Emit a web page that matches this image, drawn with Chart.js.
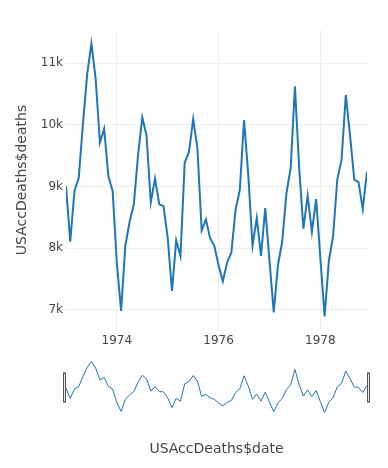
<!DOCTYPE html>
<html>
<head>
<meta charset="utf-8">
<script src="https://cdn.jsdelivr.net/npm/chart.js@4.4.0/dist/chart.umd.min.js"></script>
<style>
  html, body { margin: 0; padding: 0; background: #fff; }
  #wrap { position: relative; width: 388px; height: 468px; }
  #main { position: absolute; left: 0; top: 0; }
  #slider { position: absolute; left: 0; top: 355px; }
</style>
</head>
<body>
<div id="wrap">
  <canvas id="main" width="388" height="468"></canvas>
  <canvas id="slider" width="388" height="65"></canvas>
</div>
<script>
// ---- data ----
const dates = [
  "1973-01","1973-02","1973-03","1973-04","1973-05","1973-06","1973-07","1973-08","1973-09","1973-10","1973-11","1973-12",
  "1974-01","1974-02","1974-03","1974-04","1974-05","1974-06","1974-07","1974-08","1974-09","1974-10","1974-11","1974-12",
  "1975-01","1975-02","1975-03","1975-04","1975-05","1975-06","1975-07","1975-08","1975-09","1975-10","1975-11","1975-12",
  "1976-01","1976-02","1976-03","1976-04","1976-05","1976-06","1976-07","1976-08","1976-09","1976-10","1976-11","1976-12",
  "1977-01","1977-02","1977-03","1977-04","1977-05","1977-06","1977-07","1977-08","1977-09","1977-10","1977-11","1977-12",
  "1978-01","1978-02","1978-03","1978-04","1978-05","1978-06","1978-07","1978-08","1978-09","1978-10","1978-11","1978-12"
];
const deaths = [
  9007, 8106, 8928, 9137, 10017, 10826, 11317, 10744, 9713, 9938, 9161, 8927,
  7750, 6981, 8038, 8422, 8714, 9512, 10120, 9823, 8743, 9129, 8710, 8680,
  8162, 7306, 8124, 7870, 9387, 9556, 10093, 9620, 8285, 8466, 8160, 8034,
  7717, 7461, 7767, 7925, 8623, 8945, 10078, 9179, 8037, 8488, 7874, 8647,
  7792, 6957, 7726, 8106, 8890, 9299, 10625, 9302, 8314, 8850, 8265, 8796,
  7836, 6892, 7791, 8192, 9115, 9434, 10484, 9827, 9110, 9070, 8633, 9240
];
const xTickValues = [1974, 1976, 1978];
const yTickValues = [7000, 8000, 9000, 10000, 11000];
const xTitle = "USAccDeaths$date";
const yTitle = "USAccDeaths$deaths";

// ---- helpers ----
function toYear(s) {
  const [y, m] = s.split("-").map(Number);
  return y + (m - 1) / 12;
}
const points = dates.map((d, i) => ({ x: toYear(d), y: deaths[i] }));
const xMin = toYear(dates[0]);
const xMax = toYear(dates[dates.length - 1]);
const yMin = 6671, yMax = 11538;

const FONT = "'DejaVu Sans', Verdana, sans-serif";
const TXT = "#444";
const GRID = "#eeeeee";
const LINE = "#1f77b4";

Chart.defaults.font.family = FONT;
Chart.defaults.color = TXT;

new Chart(document.getElementById("main"), {
  type: "line",
  data: { datasets: [{ data: points, borderColor: LINE, borderWidth: 2, pointRadius: 0, tension: 0, fill: false }] },
  options: {
    responsive: false,
    animation: false,
    events: [],
    layout: { padding: { left: 0, right: 21, top: 30, bottom: 0 } },
    plugins: { legend: { display: false }, tooltip: { enabled: false } },
    scales: {
      x: {
        type: "linear",
        min: xMin, max: xMax,
        afterBuildTicks: s => { s.ticks = xTickValues.map(v => ({ value: v })); },
        afterFit: s => { s.height = 468 - 330; },
        grid: { color: GRID, lineWidth: 1, drawTicks: false },
        border: { display: false },
        ticks: { padding: 4, font: { size: 12, family: FONT }, color: TXT, maxRotation: 0, callback: v => String(v) },
        title: { display: true, text: xTitle, font: { size: 14, family: FONT }, color: TXT, padding: { top: 0, bottom: 10 } }
      },
      y: {
        type: "linear",
        min: yMin, max: yMax,
        afterBuildTicks: s => { s.ticks = yTickValues.map(v => ({ value: v })); },
        afterFit: s => { s.width = 66; },
        grid: { color: GRID, lineWidth: 1, drawTicks: false },
        border: { display: false },
        ticks: { padding: 3, font: { size: 12, family: FONT }, color: TXT, callback: v => (v / 1000) + "k" },
        title: { display: true, text: yTitle, font: { size: 14, family: FONT }, color: TXT, padding: { top: 14, bottom: 0 } }
      }
    }
  }
});

const handles = {
  id: "handles",
  afterDraw(chart) {
    const ctx = chart.ctx, a = chart.chartArea;
    ctx.save();
    ctx.fillStyle = "#eeeeee";
    ctx.strokeStyle = "#555555";
    ctx.lineWidth = 1;
    [a.left - 2.5, a.right + 0.5].forEach(x => {
      ctx.fillRect(x, 18, 2, 29);
      ctx.strokeRect(x, 18, 2, 29);
    });
    ctx.restore();
  }
};

new Chart(document.getElementById("slider"), {
  type: "line",
  data: { datasets: [{ data: points, borderColor: LINE, borderWidth: 1, pointRadius: 0, tension: 0, fill: false }] },
  options: {
    responsive: false,
    animation: false,
    events: [],
    layout: { padding: { left: 66, right: 21, top: 4, bottom: 5 } },
    plugins: { legend: { display: false }, tooltip: { enabled: false } },
    scales: {
      x: { type: "linear", min: xMin, max: xMax, display: false },
      y: { type: "linear", min: yMin, max: yMax, display: false }
    }
  },
  plugins: [handles]
});
</script>
</body>
</html>
